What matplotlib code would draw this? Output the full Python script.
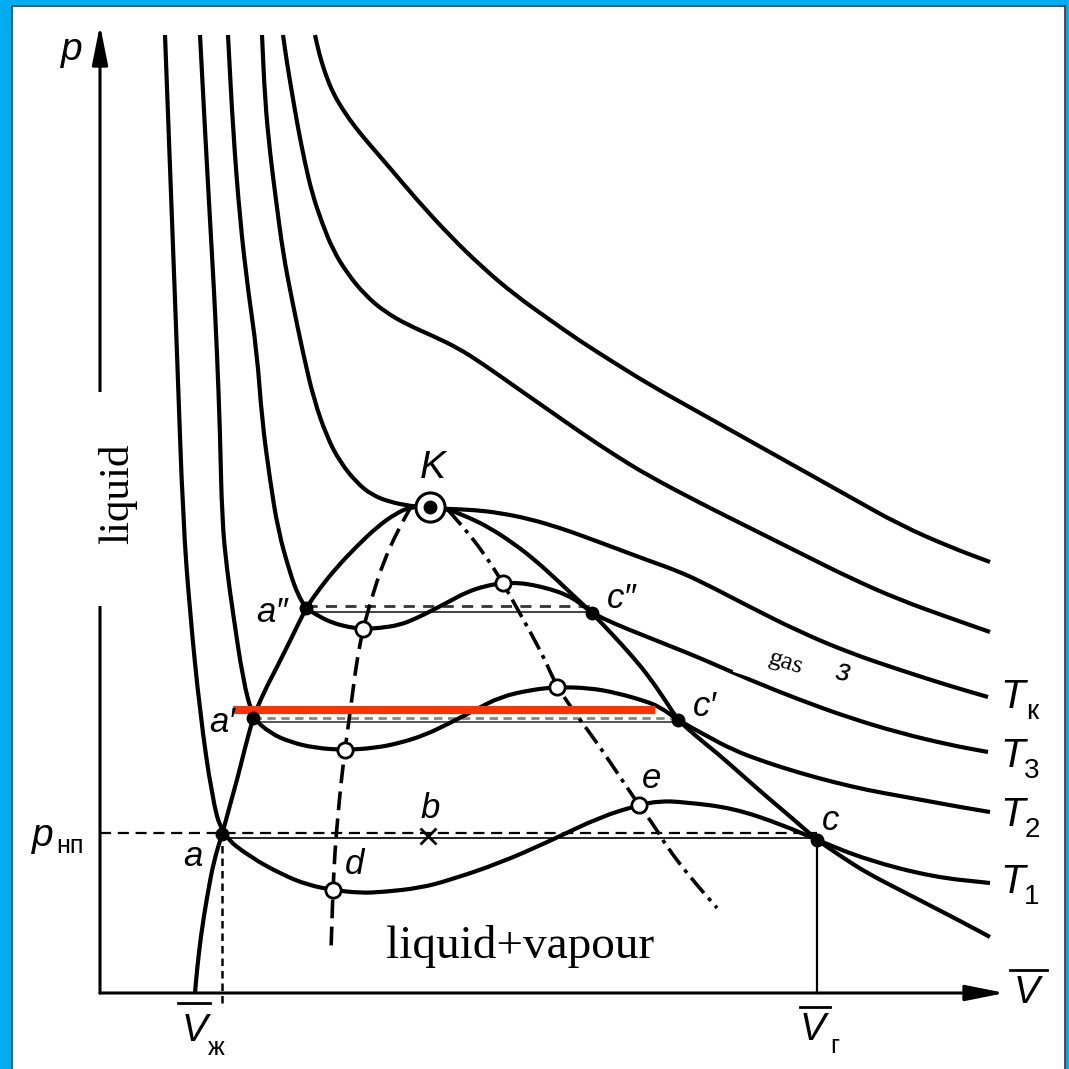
import matplotlib
matplotlib.use("Agg")
import matplotlib.pyplot as plt
from matplotlib.patches import Rectangle, PathPatch
from matplotlib.path import Path

# isotherms (V, p in arbitrary units, origin at the axis corner)
t1_v = [0.65, 0.72, 0.77, 0.83, 0.90, 1.00, 1.12, 1.22, 1.50, 1.83, 2.08, 2.33, 2.60, 2.83, 3.20, 3.50,
        4.00, 4.50, 5.00, 5.39, 5.60, 5.83, 6.33, 6.83, 7.17, 7.67, 8.33, 8.90]
t1_p = [9.58, 7.73, 6.40, 4.73, 3.80, 2.80, 1.96, 1.58, 1.36, 1.18, 1.08, 1.03, 1.00, 1.01, 1.05, 1.13,
        1.30, 1.52, 1.76, 1.88, 1.92, 1.91, 1.85, 1.68, 1.53, 1.33, 1.16, 1.10]

t2_v = [1.00, 1.05, 1.10, 1.14, 1.17, 1.20, 1.22, 1.27, 1.33, 1.43, 1.53, 1.70, 1.90, 2.15, 2.45, 2.75,
        3.00, 3.25, 3.50, 3.75, 4.00, 4.30, 4.57, 4.90, 5.17, 5.45, 5.60, 5.78, 6.05, 6.33, 6.65, 7.00,
        7.33, 7.67, 8.00, 8.33, 8.60, 8.90]
t2_p = [9.58, 8.63, 7.73, 7.03, 6.40, 5.63, 4.73, 4.23, 3.80, 3.13, 2.75, 2.60, 2.51, 2.45, 2.43, 2.45,
        2.50, 2.58, 2.70, 2.83, 2.96, 3.03, 3.06, 3.05, 3.00, 2.92, 2.86, 2.73, 2.58, 2.43, 2.31, 2.20,
        2.11, 2.03, 1.97, 1.91, 1.86, 1.81]

t3_v = [1.28, 1.33, 1.40, 1.48, 1.57, 1.62, 1.70, 1.78, 1.90, 1.98, 2.06, 2.20, 2.33, 2.48, 2.63, 2.80,
        3.00, 3.17, 3.33, 3.50, 3.67, 3.85, 4.03, 4.20, 4.33, 4.50, 4.67, 4.80, 4.92, 5.15, 5.45, 5.75,
        6.00, 6.50, 7.00, 7.50, 8.00, 8.50, 8.88]
t3_p = [9.58, 8.63, 7.73, 7.03, 6.40, 5.73, 5.13, 4.63, 4.20, 3.98, 3.85, 3.76, 3.70, 3.66, 3.64, 3.65,
        3.68, 3.75, 3.83, 3.92, 4.01, 4.07, 4.10, 4.10, 4.08, 4.04, 3.98, 3.90, 3.80, 3.69, 3.57, 3.45,
        3.35, 3.13, 2.93, 2.75, 2.60, 2.48, 2.41]

tk_v = [1.62, 1.65, 1.70, 1.76, 1.83, 1.92, 2.03, 2.14, 2.27, 2.40, 2.57, 2.72, 2.90, 3.10, 3.30, 3.50,
        3.75, 4.00, 4.30, 4.60, 4.80, 5.15, 5.47, 5.75, 6.00, 6.50, 7.00, 7.50, 8.00, 8.50, 8.88]
tk_p = [9.58, 8.93, 8.40, 7.93, 7.40, 6.93, 6.40, 5.93, 5.56, 5.31, 5.10, 4.98, 4.91, 4.87, 4.85, 4.84,
        4.83, 4.80, 4.74, 4.65, 4.58, 4.45, 4.33, 4.23, 4.12, 3.86, 3.61, 3.40, 3.23, 3.07, 2.96]

t5_v = [1.83, 1.87, 1.92, 1.98, 2.05, 2.12, 2.22, 2.33, 2.47, 2.65, 2.85, 3.08, 3.33, 3.58, 3.83, 4.17,
        4.50, 4.80, 5.13, 5.47, 6.00, 6.50, 7.00, 7.50, 8.00, 8.50, 8.90]
t5_p = [9.58, 9.30, 9.00, 8.65, 8.30, 8.00, 7.70, 7.43, 7.20, 6.98, 6.81, 6.68, 6.57, 6.45, 6.29, 6.05,
        5.82, 5.61, 5.39, 5.18, 4.90, 4.65, 4.40, 4.15, 3.93, 3.75, 3.61]

t6_v = [2.15, 2.19, 2.25, 2.33, 2.43, 2.55, 2.70, 2.90, 3.17, 3.50, 3.83, 4.15, 4.50, 4.80, 5.13, 5.50,
        6.00, 6.50, 7.00, 7.50, 8.00, 8.50, 8.90]
t6_p = [9.58, 9.40, 9.20, 9.00, 8.83, 8.66, 8.48, 8.25, 7.93, 7.57, 7.25, 6.98, 6.73, 6.52, 6.31, 6.08,
        5.80, 5.52, 5.24, 4.96, 4.68, 4.46, 4.31]

# boundary curve through a, a', a'', K, c'', c', c
bin_v = [0.95, 0.97, 1.01, 1.07, 1.14, 1.22, 1.30, 1.37, 1.45, 1.53, 1.64, 1.77, 1.92, 2.06, 2.20, 2.37,
         2.57, 2.77, 2.95, 3.10, 3.30, 3.50, 3.70, 3.90, 4.13, 4.35, 4.57, 4.75, 4.92, 5.12, 5.33, 5.50,
         5.67, 5.78, 5.97, 6.17, 6.42, 6.67, 6.92, 7.17, 7.42, 7.67, 8.00, 8.33, 8.62, 8.90]
bin_p = [0.00, 0.23, 0.58, 0.96, 1.33, 1.58, 1.88, 2.13, 2.45, 2.75, 3.01, 3.26, 3.56, 3.85, 4.05, 4.26,
         4.47, 4.66, 4.79, 4.86, 4.87, 4.83, 4.75, 4.65, 4.50, 4.33, 4.13, 3.96, 3.80, 3.59, 3.36, 3.15,
         2.90, 2.73, 2.56, 2.40, 2.18, 1.96, 1.75, 1.53, 1.36, 1.20, 1.03, 0.86, 0.71, 0.56]

# spinodal branches
spl_v = [3.12, 2.98, 2.83, 2.72, 2.63, 2.57, 2.53, 2.49, 2.45, 2.41, 2.38, 2.35, 2.33, 2.32, 2.31]
spl_p = [4.88, 4.63, 4.30, 3.96, 3.64, 3.33, 3.03, 2.73, 2.43, 2.10, 1.78, 1.43, 1.03, 0.73, 0.43]
spr_v = [3.48, 3.70, 3.87, 4.03, 4.18, 4.33, 4.45, 4.57, 4.78, 5.00, 5.20, 5.39, 5.55, 5.67, 5.90, 6.17]
spr_p = [4.83, 4.58, 4.35, 4.10, 3.83, 3.56, 3.33, 3.06, 2.76, 2.46, 2.16, 1.88, 1.66, 1.46, 1.16, 0.85]

# marked states
filled_v = [1.22, 1.53, 2.06, 4.92, 5.78, 7.17]
filled_p = [1.59, 2.75, 3.85, 3.80, 2.73, 1.53]
open_v = [2.63, 2.45, 2.33, 4.03, 4.57, 5.39]
open_p = [3.64, 2.43, 1.03, 4.10, 3.06, 1.88]
k_v, k_p = 3.30, 4.86
p_np = 1.60
v_liq, v_gas = 1.22, 7.17

BLUE = "#00AEEF"
SANS = ["Liberation Sans", "DejaVu Sans"]
SERIF = ["Liberation Serif", "DejaVu Serif"]


def smooth_curve(ax, v, p, **kw):
    # quadratic b-spline through the midpoints, so the read points give a smooth stroke
    verts = [(v[0], p[0]), ((v[0] + v[1]) / 2, (p[0] + p[1]) / 2)]
    codes = [Path.MOVETO, Path.LINETO]
    for i in range(1, len(v) - 1):
        verts += [(v[i], p[i]), ((v[i] + v[i + 1]) / 2, (p[i] + p[i + 1]) / 2)]
        codes += [Path.CURVE3, Path.CURVE3]
    verts.append((v[-1], p[-1]))
    codes.append(Path.LINETO)
    ax.add_patch(PathPatch(Path(verts, codes), fill=False, joinstyle="round", **kw))


fig = plt.figure(figsize=(10.69, 10.69), dpi=100)
fig.patch.set_facecolor("white")
ax = fig.add_axes([0, 0, 1, 1])
ax.set_xlim(-1.00, 9.69)
ax.set_ylim(-0.76, 9.93)
ax.axis("off")

for v, p in [(t1_v, t1_p), (t2_v, t2_p), (t3_v, t3_p), (tk_v, tk_p), (t5_v, t5_p), (t6_v, t6_p), (bin_v, bin_p)]:
    smooth_curve(ax, v, p, edgecolor="black", lw=3.0, capstyle="butt", zorder=3)

smooth_curve(ax, spl_v, spl_p, edgecolor="black", lw=2.6, linestyle=(0, (5.2, 2.3)), zorder=3)
smooth_curve(ax, spr_v, spr_p, edgecolor="black", lw=2.6, linestyle=(0, (5.5, 1.8, 1.1, 1.8)), zorder=3)

# tie lines
ax.plot([0, v_gas], [p_np, p_np], color="black", lw=1.6, dashes=(5, 3), zorder=2)
ax.plot([v_liq, v_gas], [p_np - 0.05, p_np - 0.05], color="black", lw=1.2, zorder=2)
ax.plot([1.53, 5.78], [2.71, 2.71], color="#555555", lw=1.4, zorder=2)
ax.plot([1.53, 5.78], [2.75, 2.75], color="#888888", lw=2.0, dashes=(3, 2), zorder=2)
ax.plot([2.06, 4.92], [3.81, 3.81], color="#333333", lw=1.3, zorder=2)
ax.plot([2.06, 4.92], [3.87, 3.87], color="#333333", lw=2.0, dashes=(4, 3), zorder=2)
ax.plot([1.33, 5.55], [2.83, 2.83], color="#FF3300", lw=5.8, solid_capstyle="butt", zorder=4)

# vertical drop lines
ax.plot([v_liq, v_liq], [p_np, -0.10], color="black", lw=1.8, dashes=(3, 2), zorder=2)
ax.plot([v_gas, v_gas], [1.53, 0], color="black", lw=1.6, zorder=2)

# axes with arrows
arrow = dict(arrowstyle="-|>,head_length=0.8,head_width=0.16", lw=2.2, color="black",
             mutation_scale=30, shrinkA=0, shrinkB=0)
ax.annotate("", xy=(0, 9.68), xytext=(0, 0), arrowprops=arrow, zorder=2)
ax.annotate("", xy=(9.05, 0), xytext=(0, 0), arrowprops=arrow, zorder=2)

# points
ax.plot(filled_v, filled_p, "o", ms=9, color="black", zorder=6)
ax.plot(open_v, open_p, "o", ms=11, mfc="white", mec="black", mew=2.0, zorder=6)
ax.plot([k_v], [k_p], "o", ms=21, mfc="white", mec="black", mew=2.2, zorder=6)
ax.plot([k_v], [k_p], "o", ms=9, color="black", zorder=7)
ax.plot([3.28], [1.57], "x", ms=11, mew=2.0, color="black", zorder=6)

# letters
it = dict(family=SANS, style="italic", color="black", ha="center", va="center", zorder=8)
ax.text(-0.28, 9.43, "p", fontsize=28, **it)
ax.text(-0.57, 1.57, "p", fontsize=28, **it)
ax.text(-0.30, 1.47, "нп", fontsize=18, family=SANS, ha="center", va="center", zorder=8)
ax.text(0.93, 1.36, "a", fontsize=25, **it)
ax.text(2.55, 1.29, "d", fontsize=25, **it)
ax.text(3.30, 1.85, "b", fontsize=25, **it)
ax.text(5.52, 2.14, "e", fontsize=25, **it)
ax.text(7.31, 1.73, "c", fontsize=25, **it)
ax.text(1.22, 2.71, "a′", fontsize=25, **it)
ax.text(6.05, 2.87, "c′", fontsize=25, **it)
ax.text(1.72, 3.81, "a″", fontsize=25, **it)
ax.text(5.22, 3.95, "c″", fontsize=25, **it)
ax.text(3.33, 5.25, "K", fontsize=28, **it)

t_labels = [("к", 2.96), ("3", 2.37), ("2", 1.78), ("1", 1.11)]
for sub, y in t_labels:
    ax.text(9.13, y, "T", fontsize=29, **it)
    ax.text(9.32, y - 0.15, sub, fontsize=20, family=SANS, ha="center", va="center", zorder=8)

# V labels with bars
ax.text(9.27, 0.00, "V", fontsize=28, **it)
ax.plot([9.10, 9.47], [0.23, 0.23], color="black", lw=2.0)
ax.text(0.95, -0.38, "V", fontsize=28, **it)
ax.text(1.16, -0.55, "ж", fontsize=18, family=SANS, ha="center", va="center")
ax.plot([0.78, 1.10], [-0.10, -0.10], color="black", lw=2.0)
ax.text(7.13, -0.37, "V", fontsize=28, **it)
ax.text(7.35, -0.53, "г", fontsize=18, family=SANS, ha="center", va="center")
ax.plot([7.00, 7.30], [-0.14, -0.14], color="black", lw=2.0)

# pasted-on labels
ax.add_patch(Rectangle((-0.03, 3.87), 0.55, 2.14, facecolor="white", edgecolor="none", zorder=9))
ax.text(0.18, 4.99, "liquid", rotation=90, fontsize=31, family=SERIF, ha="center", va="center", zorder=10)
ax.add_patch(Rectangle((6.90 - 0.53, 3.26 - 0.22), 1.05, 0.44, angle=-18, rotation_point="center",
                       facecolor="white", edgecolor="none", zorder=9))
ax.text(6.86, 3.30, "gas", rotation=-18, fontsize=19, family=SERIF, ha="center", va="center", zorder=10)
ax.text(7.43, 3.21, "з", rotation=-10, fontsize=22, family=SANS, style="italic",
        ha="center", va="center", zorder=10)
ax.text(4.20, 0.46, "liquid+vapour", fontsize=34, family=SERIF, ha="center", va="center", zorder=8)

# blue frame
W = 1069
for x0, y0, w, h in [(0, 0, 12 / W, 1), (0, 1 - 6 / W, 1, 6 / W), (1065 / W, 0, 4 / W, 1)]:
    fig.patches.append(Rectangle((x0, y0), w, h, transform=fig.transFigure, facecolor=BLUE,
                                 edgecolor="none", zorder=20))
fig.add_artist(plt.Line2D([12 / W, 12 / W], [0, 1 - 6 / W], color="#333333", lw=1.2, zorder=21))
fig.add_artist(plt.Line2D([12 / W, 1065 / W], [1 - 6 / W, 1 - 6 / W], color="#333333", lw=1.2, zorder=21))
fig.add_artist(plt.Line2D([1065 / W, 1065 / W], [0, 1 - 6 / W], color="#333333", lw=1.2, zorder=21))

fig.savefig("out.png", dpi=100)
